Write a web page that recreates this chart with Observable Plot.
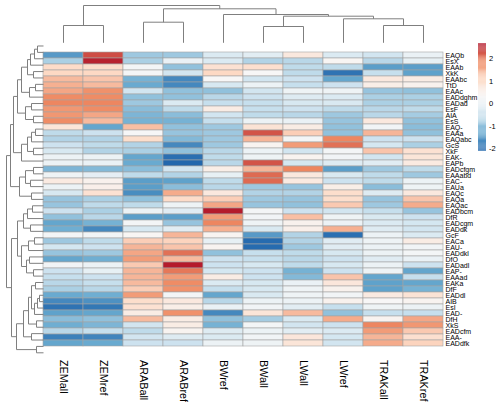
<!DOCTYPE html>
<html>
<head>
<meta charset="utf-8">
<script src="https://cdn.jsdelivr.net/npm/d3@7"></script>
<script src="https://cdn.jsdelivr.net/npm/@observablehq/plot@0.6"></script>
<style>
  html, body { margin: 0; padding: 0; background: #fff; }
  #chart { position: relative; width: 500px; height: 408px; }
  #chart svg { position: absolute; left: 0; top: 0; background: transparent; }
</style>
</head>
<body>
<div id="chart"></div>
<script>
// Conditions (heatmap columns, in dendrogram order)
const columns = ["ZEMall", "ZEMref", "ARABall", "ARABref", "BWref", "BWall", "LWall", "LWref", "TRAKall", "TRAKref"];

// Features (heatmap rows, in dendrogram order)
const rows = ["EAQb", "EsX", "EAAb", "XkK", "EAAbc", "TtD", "EAAc", "EADdghm", "EADad", "EsF",
  "AIA", "EsS", "EAQ-", "EAAa", "EAQabc", "GcS", "XkF", "EAK-", "EAPb", "EADcfgm",
  "EAAabd", "EAC-", "EAUa", "EAQc", "EAQa", "EAQac", "EADbcm", "DfR", "EADcgm", "EADdk",
  "GcF", "EACa", "EAU-", "EADdkl", "DfO", "EADadl", "EAP-", "EAAad", "EAKa", "DfF",
  "EADdl", "AIB", "EsI", "EAD-", "DfH", "XkS", "EADcfm", "EAA-", "EADdfk"];

// Scaled values, one array per condition (row order as above)
const ZEMall = [-1.5, -0.8, 1.05, 1.1, 1.4, 1.5, 1.6, 1.85, 1.9, 1.75, 1.75, 1.85, 0.8, -0.65, -0.75, -0.55, -0.4, 0.05, 0.05, -1.15,
  0.1, 0.65, 0.05, -0.4, -0.95, -0.95, -0.55, -1.0, -1.35, -1.25, 0.2, -0.9, -0.45, -0.95, -1.35, 0.15, -0.55, -0.6, -0.7, -0.8,
  -1.3, -1.7, -1.95, -1.4, -1.05, -1.25, -0.7, -1.8, -1.35];
const ZEMref = [2.3, 2.6, 1.0, 1.1, 1.3, 1.4, 1.8, 1.85, 1.9, 1.85, 1.6, 1.4, -1.35, -0.55, -0.75, -0.65, -0.75, 0.05, 0.0, -1.1,
  -0.1, 0.45, 0.5, 0.9, -0.8, -0.65, -0.8, -0.7, -1.2, -1.7, 0.15, -0.65, -0.55, -0.9, -1.25, 0.05, -0.05, -0.55, -0.6, -0.7,
  -1.25, -1.6, -1.9, -1.35, -1.0, -1.15, -0.6, -1.75, -1.3];
const ARABall = [-0.9, -0.8, 0.2, 0.2, -1.2, -1.3, -0.5, -1.0, -0.9, -1.05, -1.15, -1.2, 1.35, 0.25, 1.0, -0.75, -0.8, -1.35, -1.3, -1.05,
  -0.65, -1.45, -1.45, -1.65, -1.0, -0.65, 0.05, -1.45, 0.2, -0.4, 0.35, 1.2, 1.45, 1.6, 1.7, 1.25, 1.45, 1.45, 1.4, 1.2,
  1.7, 1.0, 0.9, 0.6, 1.4, -0.5, -0.65, -0.5, -0.55];
const ARABref = [-0.9, 0.0, -1.0, -0.5, -1.7, -1.7, -1.0, -1.0, -0.3, -0.65, -1.05, -1.2, -1.0, -0.95, -1.1, -1.7, -1.0, -2.0, -2.1, -0.5,
  -0.75, -1.4, -1.05, 1.55, 1.05, 0.1, -0.2, -1.45, -0.95, -0.15, 1.45, 1.15, 1.3, 2.05, 1.4, 2.65, 2.0, 1.7, 1.85, 1.8,
  0.2, 0.7, 0.55, 1.8, 0.6, 0.6, 0.4, -0.25, -0.55];
const BWref = [-0.3, -0.3, 0.9, 1.1, 0.3, -0.4, -1.0, -0.7, -0.6, 0.6, -0.5, -0.6, -0.9, -0.9, -0.9, -0.9, -0.7, -0.65, -0.7, 0.55,
  -0.05, -0.65, -0.7, 0.7, 1.2, 1.6, 2.65, 1.7, 1.9, 1.5, 0.4, -0.05, 0.4, -1.0, -0.55, -0.55, -0.45, 0.6, -0.3, -0.6,
  -1.35, -0.7, 0.0, -1.7, -1.0, -1.2, -0.25, -0.3, 0.05];
const BWall = [-0.15, -0.75, 0.95, 0.3, -0.5, 0.05, -0.5, -0.55, -0.6, -0.6, -0.65, 0.05, 0.85, 2.25, 1.45, 0.4, 0.05, 0.1, 2.25, 1.45,
  2.1, 2.1, -0.9, -0.75, -0.9, -0.95, 0.2, 0.15, 0.1, -0.35, -1.5, -2.05, -2.05, -0.6, -0.6, -0.4, -0.55, -0.55, -0.4, -0.4,
  -0.35, 0.05, 0.15, 0.8, -0.85, 0.2, 0.05, 0.15, 0.1];
const LWall = [0.7, -0.7, -0.65, -0.65, -0.55, -0.6, 0.1, -0.25, -0.4, -0.55, -0.7, 0.0, 0.6, 1.2, 0.2, 1.7, -0.5, 0.4, -0.45, 1.9,
  0.7, 0.65, -0.95, -0.75, -0.95, -1.0, -0.55, 1.35, 0.45, 0.5, -0.75, -0.75, -0.9, -0.65, -0.7, -0.65, -1.2, -1.1, 0.0, 0.1,
  0.1, 0.05, -0.15, 1.4, -0.35, -0.5, -0.15, 0.75, 0.8];
const LWref = [-0.3, 0.35, -0.65, -1.95, -1.35, -0.55, 0.1, -0.3, -0.35, -0.65, -0.9, -0.95, -1.0, -1.0, 1.9, 2.05, 0.2, 0.15, -0.25, -1.45,
  -0.35, -0.55, 0.55, 1.0, 1.0, 1.25, -0.5, 0.1, 0.05, 1.5, -2.0, -0.2, -0.2, -0.4, -0.55, -0.4, -0.55, 1.3, 0.75, 0.45,
  0.15, 0.45, -0.6, -1.0, 1.55, -0.55, -0.3, -0.45, -0.5];
const TRAKall = [-0.5, -0.7, -1.45, -0.6, 0.7, 0.55, -0.95, -0.8, -0.8, -0.7, -0.7, 0.7, 0.15, 1.45, -0.55, -0.45, 1.3, -0.5, -0.2, -0.9,
  -0.65, -0.65, -1.05, -0.25, -0.95, -0.9, -0.6, -0.35, -0.3, -0.25, 0.05, 0.1, 0.05, 0.05, -0.2, 0.05, 0.1, -1.35, -1.4, -1.4,
  0.65, 0.3, 0.1, -0.6, 0.4, 1.9, 1.7, 1.45, 1.55];
const TRAKref = [0.0, -0.05, -1.45, -1.4, 0.6, 0.45, -1.0, -0.8, -0.8, -0.65, -0.85, -1.0, -1.05, -1.0, -0.55, -0.8, 0.9, 0.8, 0.65, -0.65,
  -0.9, 0.05, 0.1, 0.7, 1.3, 1.55, -0.95, -0.55, -0.45, -0.5, -0.3, 0.6, 0.15, 0.2, 0.0, -0.55, -1.35, -0.6, -1.35, -1.2,
  0.85, 0.4, 0.05, -0.6, 1.6, 1.75, 1.25, 0.95, 1.15];

// Column clustering: [merge height, left, right]; leaves are column indices
const colTree = [37.3, [17.3, 0, 1], [34, [20.6, 2, 3], [28.3, 4, [26.6, [16.3, 5, 6], [24, 7, [17.3, 8, 9]]]]]];

// Row clustering: [merge height, left, right]; leaves are row indices
const rowTree = [37,
  [32,
    [27, [7, 0, 1],
      [20, [12, 2, 3],
        [15, [7, 4, 5],
          [12, [9, 6, [6, 7, [4, 8, 9]]], [8, 10, 11]]]]],
    [26,
      [22, [17, [10, 12, 13], [14, 14, 15]], [15, 16, [9, 17, 18]]],
      [20, [13, 19, 20], [16, 21, [11, 22, 23]]]]],
  [33,
    [24, [12, 24, 25], [18, [13, 26, 27], [10, 28, 29]]],
    [30, [22, 30, [16, [10, 31, 32], [12, 33, [8, 34, 35]]]],
      [26, [18, [10, 36, 37], [12, 38, 39]],
        [22, [14, 40, [8, 41, 42]], [16, [10, 43, 44], [13, 45, [9, 46, [6, 47, 48]]]]]]]]];

// Colour bar limits and ticks
const legendRange = [-2.11, 2.67];
const legendTicks = [-2, -1, 0, 1, 2];
const palette = ["#2166AC", "#67A9CF", "#D1E5F0", "#F7F7F7", "#FDDBC7", "#EF8A62", "#B2182B"];

const series = {ZEMall, ZEMref, ARABall, ARABref, BWref, BWall, LWall, LWref, TRAKall, TRAKref};
const cells = columns.flatMap(c => rows.map((r, i) => ({col: c, row: r, value: series[c][i]})));

const stops = palette.map((_, i) => legendRange[0] + (legendRange[1] - legendRange[0]) * i / (palette.length - 1));
const colorScale = {type: "linear", domain: stops, range: palette, interpolate: "rgb"};

// Turn a nested merge tree into line segments (pos = leaf axis, h = height)
function treeSegments(tree) {
  const segs = [];
  function walk(node) {
    if (typeof node === "number") return {pos: node, h: 0};
    const [h, l, r] = node;
    const a = walk(l), b = walk(r);
    segs.push({p1: a.pos, h1: a.h, p2: a.pos, h2: h});
    segs.push({p1: b.pos, h1: b.h, p2: b.pos, h2: h});
    segs.push({p1: a.pos, h1: h, p2: b.pos, h2: h});
    return {pos: (a.pos + b.pos) / 2, h};
  }
  walk(tree);
  return segs;
}

const W = 500, H = 408;
const frame = {left: 43, right: 443, top: 42.3, bottom: 355.5};
const treeColor = "#7f7f7f";
const sans = "Liberation Sans, Arial, Helvetica, sans-serif";
const narrow = "Liberation Sans Narrow, Arial Narrow, Liberation Sans, sans-serif";

const heat = Plot.plot({
  width: W, height: H,
  marginLeft: frame.left, marginRight: W - frame.right,
  marginTop: frame.top, marginBottom: H - frame.bottom,
  style: {background: "transparent"},
  x: {domain: columns, padding: 0, label: null},
  y: {domain: rows, padding: 0, label: null},
  color: colorScale,
  marks: [
    Plot.cell(cells, {x: "col", y: "row", fill: "value", stroke: "#a3a3a3", strokeWidth: 0.6, inset: 0}),
    Plot.axisX({anchor: "bottom", tickSize: 0, tickPadding: 4, tickRotate: 90, fontSize: 10.8, fontFamily: sans, label: null}),
    Plot.axisY({anchor: "right", tickSize: 0, tickPadding: 2, fontSize: 7, fontFamily: narrow, label: null})
  ]
});

const colDendro = Plot.plot({
  width: W, height: H,
  marginLeft: frame.left, marginRight: W - frame.right,
  marginTop: 0, marginBottom: H - frame.top,
  style: {background: "transparent"},
  x: {domain: [-0.5, columns.length - 0.5], axis: null},
  y: {domain: [0, frame.top], axis: null},
  marks: [
    Plot.link(treeSegments(colTree), {x1: "p1", y1: "h1", x2: "p2", y2: "h2", stroke: treeColor, strokeWidth: 1})
  ]
});

const rowDendro = Plot.plot({
  width: W, height: H,
  marginLeft: 0, marginRight: W - frame.left,
  marginTop: frame.top, marginBottom: H - frame.bottom,
  style: {background: "transparent"},
  x: {domain: [frame.left, 0], axis: null},
  y: {domain: [-0.5, rows.length - 0.5], axis: null},
  marks: [
    Plot.link(treeSegments(rowTree), {x1: "h1", y1: "p1", x2: "h2", y2: "p2", stroke: treeColor, strokeWidth: 1})
  ]
});

// Colour bar: 100 steps between the limits
const nSteps = 100;
const steps = d3.range(nSteps).map(i => ({
  y1: legendRange[0] + (legendRange[1] - legendRange[0]) * i / nSteps,
  y2: legendRange[0] + (legendRange[1] - legendRange[0]) * (i + 1) / nSteps
}));
const legend = Plot.plot({
  width: W, height: H,
  marginLeft: 478, marginRight: 14,
  marginTop: 43.3, marginBottom: H - 150.7,
  style: {background: "transparent"},
  x: {domain: [0, 1], axis: null},
  y: {domain: legendRange, label: null},
  color: colorScale,
  marks: [
    Plot.rect(steps, {x1: 0, x2: 1, y1: "y1", y2: "y2", fill: d => (d.y1 + d.y2) / 2}),
    Plot.axisY({anchor: "right", ticks: legendTicks, tickFormat: d => String(d), tickSize: 0, tickPadding: 2.5, fontSize: 7.5, fontFamily: sans, label: null})
  ]
});

const root = document.getElementById("chart");
root.append(heat, colDendro, rowDendro, legend);
</script>
</body>
</html>
